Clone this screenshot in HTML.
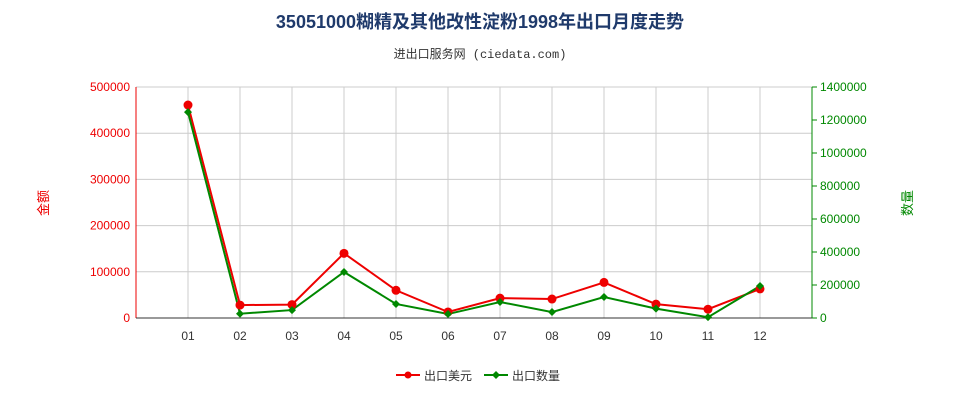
<!DOCTYPE html>
<html><head><meta charset="utf-8"><style>
body{margin:0;background:#fff;font-family:"Liberation Sans","Noto Sans CJK SC",sans-serif;}
</style></head><body>
<svg width="960" height="400" xmlns="http://www.w3.org/2000/svg" id="chart">
<text x="480" y="28" text-anchor="middle" font-size="18" font-weight="bold" fill="#1f3a6b" font-family="Liberation Sans,Noto Sans CJK SC,sans-serif">35051000糊精及其他改性淀粉1998年出口月度走势</text>
<text x="480" y="58" text-anchor="middle" font-size="12" fill="#333" font-family="Liberation Mono,Noto Sans CJK SC,monospace">进出口服务网 (ciedata.com)</text>
<text x="48" y="203" text-anchor="middle" font-size="13" fill="#e00" transform="rotate(-90 48 203)" font-family="Liberation Sans,Noto Sans CJK SC,sans-serif">金额</text>
<text x="912" y="203" text-anchor="middle" font-size="13" fill="#080" transform="rotate(-90 912 203)" font-family="Liberation Sans,Noto Sans CJK SC,sans-serif">数量</text>
<g id="grid"></g><g id="axes"></g><g id="series"></g>
<g>
<g><line x1="396" y1="375" x2="420" y2="375" stroke="#e00" stroke-width="2"/><circle cx="408" cy="375" r="3.5" fill="#e00"/><text x="424" y="380" font-size="12" fill="#333">出口美元</text></g>
<g><line x1="484" y1="375" x2="508" y2="375" stroke="#080" stroke-width="2"/><path d="M508 371 L512 375 508 379 504 375Z" transform="translate(-12 0)" fill="#080"/><text x="512" y="380" font-size="12" fill="#333">出口数量</text></g>
</g>
</svg>
<script>
const categories=["01","02","03","04","05","06","07","08","09","10","11","12"];
const usdValues=[461000,28000,29000,140000,60000,13000,43000,41000,77000,30000,19000,63000];
const qtyValues=[1248000,26000,48000,279000,85000,24000,97000,36000,127000,57000,5000,194000];
const leftTicks=[0,100000,200000,300000,400000,500000];
const rightTicks=[0,200000,400000,600000,800000,1000000,1200000,1400000];
const NS="http://www.w3.org/2000/svg";
const L=136,R=812,T=87,B=318;
const x=i=>L+52*(i+1);
const yL=v=>B-v/500000*(B-T);
const yR=v=>B-v/1400000*(B-T);
function mk(tag,attrs,parent){const e=document.createElementNS(NS,tag);for(const k in attrs)e.setAttribute(k,attrs[k]);document.getElementById(parent).appendChild(e);return e;}
leftTicks.forEach(v=>{const g=mk('line',{x1:L,x2:R,y1:yL(v),y2:yL(v),stroke:'#ccc','stroke-width':1},'grid');


const t=mk('text',{x:L-6,y:yL(v)+4,'text-anchor':'end','font-size':12,fill:'#e00'},'axes');t.textContent=v;

});
rightTicks.forEach(v=>{mk('line',{x1:R,x2:R+5,y1:yR(v),y2:yR(v),stroke:'#080'},'axes');
const t=mk('text',{x:R+8,y:yR(v)+4,'font-size':12,fill:'#080'},'axes');t.textContent=v;

});
for(let i=0;i<=12;i++){const g=mk('line',{x1:L+52*(i+1)>R?R:L+52*(i+1),x2:L+52*(i+1)>R?R:L+52*(i+1),y1:T,y2:B,stroke:'#ccc'},'grid');

}
mk('line',{x1:L,x2:L,y1:T,y2:B,stroke:'#e00'},'axes');
mk('line',{x1:R,x2:R,y1:T,y2:B,stroke:'#080'},'axes');
mk('line',{x1:L,x2:R,y1:B,y2:B,stroke:'#333'},'axes');
categories.forEach((c,i)=>{const t=mk('text',{x:x(i),y:B+22,'text-anchor':'middle','font-size':12,fill:'#333'},'axes');t.textContent=c;

});
const pu=mk('polyline',{points:usdValues.map((v,i)=>x(i)+','+yL(v)).join(' '),fill:'none',stroke:'#e00','stroke-width':2},'series');


const pq=mk('polyline',{points:qtyValues.map((v,i)=>x(i)+','+yR(v)).join(' '),fill:'none',stroke:'#080','stroke-width':2},'series');


usdValues.forEach((v,i)=>{const c=mk('circle',{cx:x(i),cy:yL(v),r:4.5,fill:'#e00'},'series');

});
qtyValues.forEach((v,i)=>{const X=x(i),Y=yR(v);const c=mk('path',{d:`M${X} ${Y-4}L${X+4} ${Y} ${X} ${Y+4} ${X-4} ${Y}Z`,fill:'#080'},'series');

});
</script>
</body></html>
